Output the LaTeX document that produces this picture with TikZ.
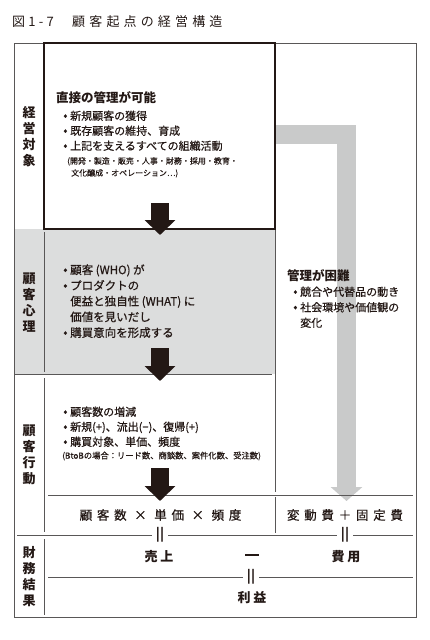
\documentclass[tikz,border=0pt]{standalone}
\usepackage{fontspec}
\setmainfont{Noto Sans CJK JP}
\usetikzlibrary{arrows.meta}
\definecolor{ink}{HTML}{231815}
\definecolor{rule}{HTML}{595757}
\definecolor{rowgray}{HTML}{DCDDDD}
\definecolor{flowgray}{HTML}{C9CACA}
\newcommand\itm{\makebox[7pt][l]{\fontsize{13}{13}\selectfont•}}
\newcommand\ind{\hspace*{7pt}}
\tikzset{
  frame/.style={draw=rule, line width=0.7pt},
  sidelabel/.style={font=\bfseries\fontsize{13}{16}\selectfont, align=center, text=ink, inner sep=0pt},
  headline/.style={font=\bfseries\fontsize{12.5}{15}\selectfont, anchor=west, text=ink, inner sep=0pt},
  items/.style={font=\fontsize{11}{15}\selectfont\addfontfeature{FakeBold=0.6}, anchor=north west, align=left, text=ink, inner sep=0pt},
  smallnote/.style={font=\fontsize{8}{12}\selectfont\addfontfeature{FakeBold=0.5}, anchor=north west, align=left, text=ink, inner sep=0pt},
  bigarrow/.style={draw=ink, line width=18pt, -{Triangle[width=30pt,length=15pt]}},
  formula/.style={font=\fontsize{12.5}{15}\selectfont\addfontfeature{LetterSpace=38,FakeBold=0.6}, text=ink, inner sep=0pt},
  result/.style={font=\bfseries\fontsize{13}{15}\selectfont\addfontfeature{LetterSpace=20}, text=ink, inner sep=0pt},
  equals/.style={fill=white, inner xsep=4pt, inner ysep=0pt, font=\bfseries\fontsize{13}{13}\selectfont, text=ink},
}
\begin{document}
\begin{tikzpicture}[x=1pt, y=-1pt]
  \useasboundingbox (0,0) rectangle (429,640);
  % title
  \node[anchor=west, inner sep=0pt, text=ink, font=\fontsize{13}{15}\selectfont\addfontfeature{LetterSpace=25}] (fig) at (12,22) {図1-7};
  \node[anchor=west, inner sep=0pt, text=ink, font=\fontsize{13}{15}\selectfont\addfontfeature{LetterSpace=32}] (title) at (72,22) {顧客起点の経営構造};

  % shaded row and outer frame
  \fill[rowgray] (15,229) rectangle (275,374);
  \draw[frame] (14,43) rectangle (416,617);

  % uncontrollable flow
  \draw[flowgray, line width=19pt, -{Triangle[width=31pt,length=14pt]}] (275,134.5) -| (346.5,501);

  % dividers
  \draw[frame] (44,232) -- (44,372);
  \draw[frame] (44,378) -- (44,532);
  \draw[frame] (44,539) -- (44,615);
  \draw[frame] (15,374) -- (272,374);
  \draw[frame] (275,229) -- (275,492);
  \draw[frame] (275,497) -- (275,533);
  \draw[frame] (48,495) -- (413,495);
  \draw[frame] (17,535) -- (413,535);
  \draw[frame] (48,577) -- (413,577);

  % controllable box
  \draw[draw=ink, line width=2pt] (44,43) rectangle (275,229);

  % arrows
  \coordinate (a1s) at (160,203);
  \coordinate (a1e) at (160,235);
  \coordinate (a2s) at (160,348);
  \coordinate (a2e) at (160,381);
  \coordinate (a3s) at (160,468);
  \coordinate (a3e) at (160,501);
  \draw[bigarrow] (a1s) -- (a1e);
  \draw[bigarrow] (a2s) -- (a2e);
  \draw[bigarrow] (a3s) -- (a3e);

  % side labels
  \node[sidelabel] (keiei) at (29,137) {経\\営\\対\\象};
  \node[sidelabel] (shinri) at (29,302.5) {顧\\客\\心\\理};
  \node[sidelabel] (kodo) at (29,455) {顧\\客\\行\\動};
  \node[sidelabel] (zaimu) at (29,577) {財\\務\\結\\果};

  % direct management
  \node[headline] (direct) at (56,98) {直接の管理が可能};
  \node[items] (directlist) at (63,110.5) {\itm 新規顧客の獲得\\\itm 既存顧客の維持、育成\\\itm 上記を支えるすべての組織活動};
  \node[smallnote] (directnote) at (67,157) {(開発・製造・販売・人事・財務・採用・教育・\\\hspace*{4pt}文化醸成・オペレーション…)};

  % customer psychology
  \node[items, font=\fontsize{11.5}{15.7}\selectfont\addfontfeature{FakeBold=0.6}] (psych) at (63,264.2) {\itm 顧客 (WHO) が\\\itm プロダクトの\\\ind 便益と独自性 (WHAT) に\\\ind 価値を見いだし\\\itm 購買意向を形成する};

  % hard to manage
  \node[headline] (hard) at (287,276) {管理が困難};
  \node[items, font=\fontsize{11}{15.5}\selectfont\addfontfeature{FakeBold=0.6}] (hardlist) at (293,286.5) {\itm 競合や代替品の動き\\\itm 社会環境や価値観の\\\ind 変化};

  % customer behaviour
  \node[items] (behave) at (63,406.5) {\itm 顧客数の増減\\\itm 新規(+)、流出(−)、復帰(+)\\\itm 購買対象、単価、頻度};
  \node[smallnote, anchor=west, font=\fontsize{8.3}{12}\selectfont\addfontfeature{FakeBold=0.5}] (btob) at (62,456) {(BtoBの場合：リード数、商談数、案件化数、受注数)};

  % formulas
  \node[formula] (sales) at (160.5,515) {顧客数 × 単価 × 頻度};
  \node[formula] (cost) at (345,515) {変動費＋固定費};
  \node[equals] (eq1) at (160,535) {||};
  \node[equals] (eq2) at (345,535) {||};
  \node[result] (uriage) at (159,557) {売上};
  \node[result] (minus) at (252,557) {\rule[0.3em]{14pt}{1.6pt}};
  \node[result] (hiyo) at (346,557) {費用};
  \node[equals] (eq3) at (251,577) {||};
  \node[result] (rieki) at (252,598) {利益};
\end{tikzpicture}
\end{document}
